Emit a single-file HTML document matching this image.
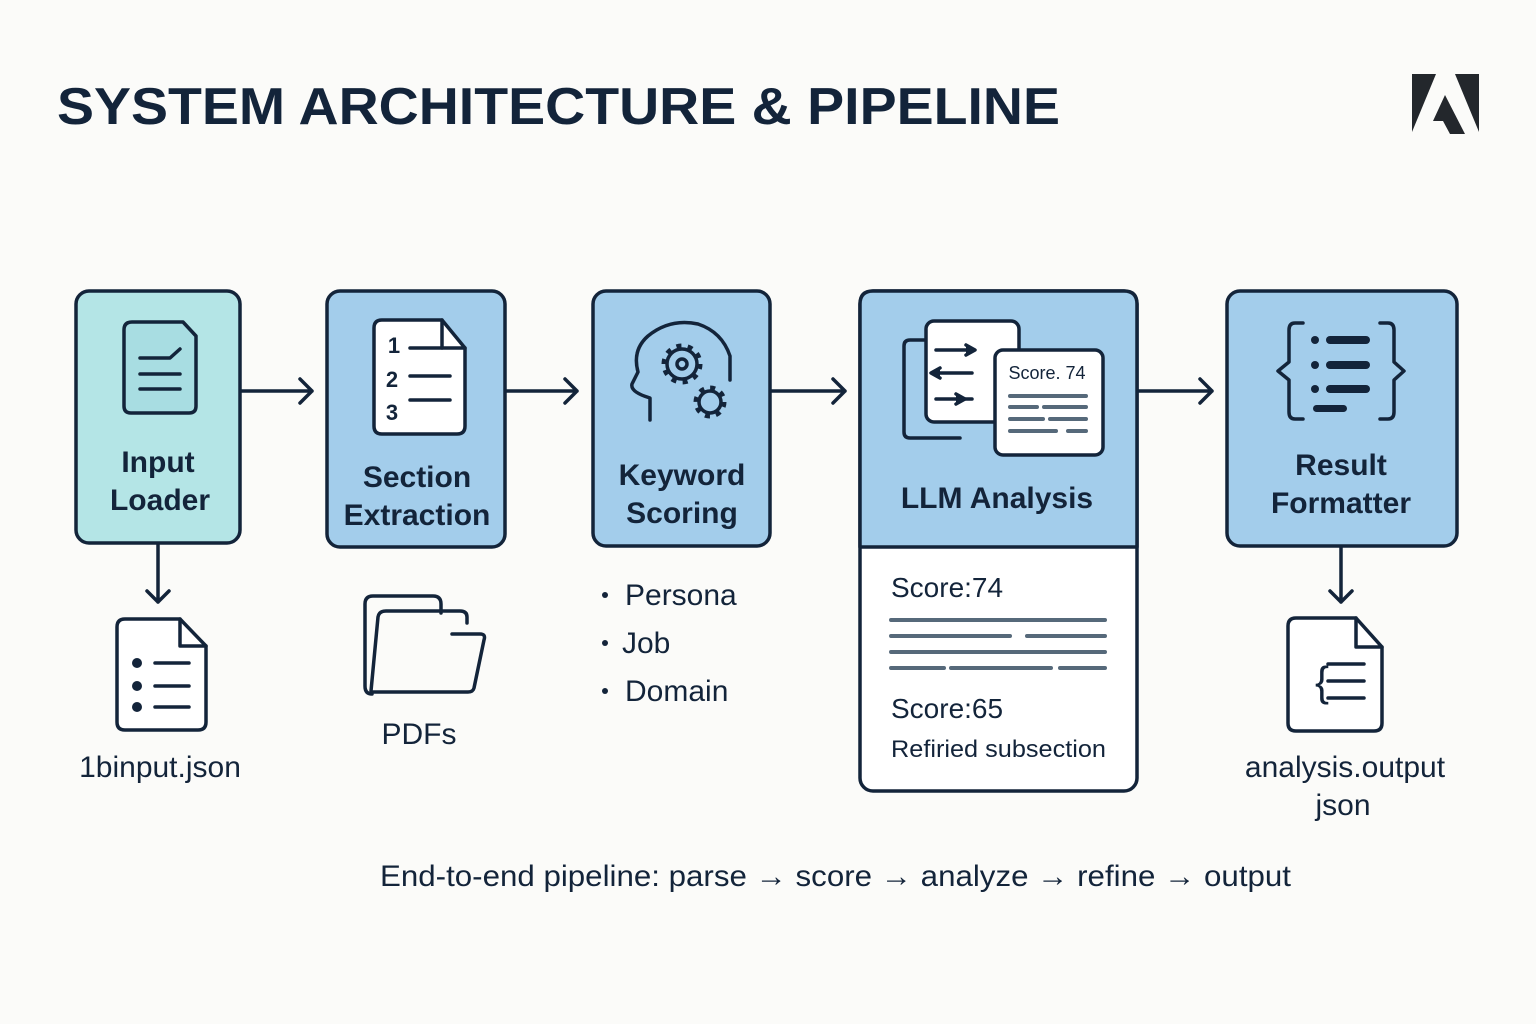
<!DOCTYPE html>
<html><head><meta charset="utf-8"><style>
html,body{margin:0;padding:0;background:#fbfbf9;}
svg{display:block;}
text{font-family:"Liberation Sans","DejaVu Sans",sans-serif;fill:#13243a;}
</style></head><body>
<svg width="1536" height="1024" viewBox="0 0 1536 1024" xmlns="http://www.w3.org/2000/svg">
<rect width="1536" height="1024" fill="#fbfbf9"/>
<text x="57" y="124" font-size="52" font-weight="bold" textLength="1003" lengthAdjust="spacingAndGlyphs" fill="#1c2733">SYSTEM ARCHITECTURE &amp; PIPELINE</text>
<polygon points="1412,74 1436,74 1412,132" fill="#23272c"/>
<polygon points="1455,74 1479,74 1479,132" fill="#23272c"/>
<polygon points="1445,95 1465,134 1450,134 1443,121 1433,121" fill="#23272c"/>

<g stroke="#13243a" stroke-width="3.5" fill="none" stroke-linecap="round" stroke-linejoin="round">
<rect x="76" y="291" width="164" height="252" rx="13" fill="#b4e5e6"/>
<rect x="327" y="291" width="178" height="256" rx="13" fill="#a3cdeb"/>
<rect x="593" y="291" width="177" height="255" rx="13" fill="#a3cdeb"/>
<rect x="860" y="291" width="277" height="500" rx="13" fill="#fff"/>
<path d="M860 547 V304 Q860 291 873 291 H1124 Q1137 291 1137 304 V547 Z" fill="#a3cdeb"/>
<rect x="1227" y="291" width="230" height="255" rx="13" fill="#a3cdeb"/>
<path d="M241 391 H312 M300 379 L312 391 L300 403"/>
<path d="M506 391 H577 M565 379 L577 391 L565 403"/>
<path d="M771 391 H845 M833 379 L845 391 L833 403"/>
<path d="M1138 391 H1212 M1200 379 L1212 391 L1200 403"/>
<path d="M158 544 V602 M147 591 L158 602 L169 591"/>
<path d="M1341 547 V602 M1330 591 L1341 602 L1352 591"/>
<path d="M124 330 Q124 322 132 322 H183 L196 336 V406 Q196 413 189 413 H131 Q124 413 124 406 Z" fill="#a8dde2"/>
<path d="M140 358 H170 L180 349 M140 374 H180 M140 389 H180"/>
<path d="M374 328 Q374 320 382 320 H442 L465 348 V426 Q465 434 457 434 H382 Q374 434 374 426 Z" fill="#fff"/>
<path d="M442 320 V348 H465"/>
<path d="M410 348 H442 M410 376 H450 M410 400 H450"/>
<path d="M650 420 V398 Q630 392 632 384 L638 372 Q632 350 648 336 Q670 318 698 324 Q722 332 730 356 V380"/>
<circle cx="682" cy="364" r="15"/><circle cx="682" cy="364" r="5"/>
<circle cx="682" cy="364" r="18" stroke-width="5" stroke-dasharray="5 6.3" stroke-linecap="butt"/>
<circle cx="710" cy="402" r="11"/>
<circle cx="710" cy="402" r="14" stroke-width="5" stroke-dasharray="5 6" stroke-linecap="butt"/>
<path d="M960 438 H910 Q904 438 904 432 V346 Q904 340 910 340 H926"/>
<rect x="926" y="321" width="93" height="101" rx="8" fill="#fff"/>
<path d="M936 350 H972 M932 373 H972 M936 399 H972" />
<path d="M966 345 L975 350 L966 355 M940 368 L931 373 L940 378 M956 394 L965 399 L956 404" fill="#13243a"/>
<rect x="995" y="350" width="108" height="105" rx="8" fill="#fff"/>
<path d="M1303 323 H1295 Q1289 323 1289 330 V362 L1278 371 L1289 380 V412 Q1289 419 1295 419 H1303"/>
<path d="M1380 323 H1388 Q1394 323 1394 330 V362 L1404 371 L1394 380 V412 Q1394 419 1388 419 H1380"/>
<path d="M117 627 Q117 619 125 619 H180 L206 646 V722 Q206 730 198 730 H125 Q117 730 117 722 Z" fill="#fff"/>
<path d="M180 619 V646 H206"/>
<path d="M155 663 H189 M155 686 H189 M155 707 H189"/>
<path d="M372 694 Q365 694 365 686 V604 Q365 596 373 596 H433 Q441 596 441 604 V613"/>
<path d="M371 691 L378 617 Q379 611 386 611 H460 Q467 611 467 617 V623"/>
<path d="M452 634 H480 Q486 634 484 640 L474 688 Q473 692 468 692 H372"/>
<path d="M1288 626 Q1288 618 1296 618 H1356 L1382 647 V723 Q1382 731 1374 731 H1296 Q1288 731 1288 723 Z" fill="#fff"/>
<path d="M1356 618 V647 H1382"/>
<path d="M1328 664 H1364 M1328 681 H1364 M1328 698 H1364"/>
</g>
<g fill="#13243a">
<circle cx="137" cy="663" r="5"/><circle cx="137" cy="686" r="5"/><circle cx="137" cy="707" r="5"/>
<circle cx="1315" cy="340" r="4"/><circle cx="1315" cy="365" r="4"/><circle cx="1315" cy="389" r="4"/>
<rect x="1326" y="336" width="44" height="8" rx="4"/><rect x="1326" y="361" width="44" height="8" rx="4"/>
<rect x="1326" y="385" width="44" height="8" rx="4"/><rect x="1313" y="405" width="34" height="7" rx="3.5"/>
<circle cx="605" cy="595" r="3"/><circle cx="605" cy="643" r="3"/><circle cx="605" cy="691" r="3"/>
</g>
<g stroke="#56697a" stroke-width="4" stroke-linecap="round">
<path d="M1010 396 H1086 M1010 407 H1037 M1044 407 H1086 M1010 419 H1043 M1050 419 H1086 M1010 431 H1056 M1068 431 H1086"/>
<path d="M891 620 H1105 M891 636 H1010 M1027 636 H1105 M891 652 H1105 M891 668 H944 M951 668 H1051 M1060 668 H1105"/>
</g>
<text x="1047" y="379" font-size="18" text-anchor="middle">Score. 74</text>
<text x="394" y="353" font-size="22" font-weight="bold" text-anchor="middle">1</text>
<text x="392" y="387" font-size="22" font-weight="bold" text-anchor="middle">2</text>
<text x="392" y="420" font-size="22" font-weight="bold" text-anchor="middle">3</text>
<text x="1322" y="696" font-size="42" text-anchor="middle">{</text>

<g font-weight="bold" font-size="30" text-anchor="middle">
<text x="158" y="472">Input</text><text x="160" y="510">Loader</text>
<text x="417" y="487">Section</text><text x="417" y="525">Extraction</text>
<text x="682" y="485">Keyword</text><text x="682" y="523">Scoring</text>
<text x="997" y="508">LLM Analysis</text>
<text x="1341" y="475">Result</text><text x="1341" y="513">Formatter</text>
</g>
<g font-size="30">
<text x="625" y="605">Persona</text>
<text x="622" y="653">Job</text>
<text x="625" y="701">Domain</text>
<text x="160" y="777" text-anchor="middle">1binput.json</text>
<text x="419" y="744" text-anchor="middle">PDFs</text>
<text x="1345" y="777" text-anchor="middle">analysis.output</text>
<text x="1343" y="815" text-anchor="middle">json</text>
<text x="891" y="597" font-size="28">Score:74</text>
<text x="891" y="718" font-size="28">Score:65</text>
<text x="891" y="757" font-size="24" textLength="215" lengthAdjust="spacingAndGlyphs">Refiried subsection</text>
<text x="380" y="886" textLength="911" lengthAdjust="spacingAndGlyphs">End-to-end pipeline: parse → score → analyze → refine → output</text>
</g>
</svg>
</body></html>
